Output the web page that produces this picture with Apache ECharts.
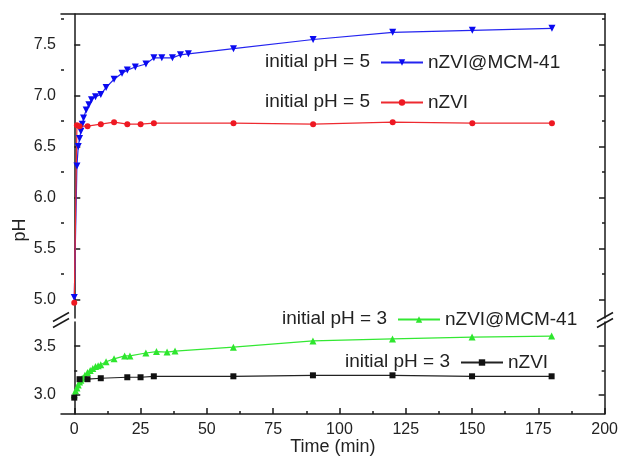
<!DOCTYPE html>
<html>
<head>
<meta charset="utf-8">
<script src="https://cdn.jsdelivr.net/npm/echarts@6/dist/echarts.min.js"></script>
<style>
  html, body { margin: 0; padding: 0; background: #fff; }
  #chart { width: 621px; height: 457px; }
</style>
</head>
<body>
<div id="chart"></div>
<script>
// pH versus reaction time, initial pH 5 (upper panel) and initial pH 3 (lower panel)
const seriesNames = [
  'initial pH = 5|nZVI@MCM-41',
  'initial pH = 5|nZVI',
  'initial pH = 3|nZVI@MCM-41',
  'initial pH = 3|nZVI'
];

const tMcm5 = [0, 1, 1.5, 2, 2.5, 3, 3.5, 4.5, 5.5, 6.5, 8, 10, 12, 15, 18, 20, 23, 27, 30, 33, 37, 40, 43, 60, 90, 120, 150, 180];
const phMcm5 = [5.02, 6.31, 6.50, 6.58, 6.65, 6.72, 6.78, 6.86, 6.91, 6.96, 6.99, 7.01, 7.08, 7.16, 7.22, 7.25, 7.28, 7.31, 7.37, 7.37, 7.37, 7.40, 7.41, 7.46, 7.55, 7.62, 7.64, 7.66];

const tFe5 = [0, 1, 2, 5, 10, 15, 20, 25, 30, 60, 90, 120, 150, 180];
const phFe5 = [4.97, 6.71, 6.70, 6.70, 6.72, 6.74, 6.72, 6.72, 6.73, 6.73, 6.72, 6.74, 6.73, 6.73];

const tMcm3 = [0, 0.5, 1, 1.5, 2, 2.5, 3, 4, 5, 6, 7, 8, 9, 10, 12, 15, 19, 21, 27, 31, 35, 38, 60, 90, 120, 150, 180];
const phMcm3 = [3.00, 3.04, 3.07, 3.10, 3.13, 3.15, 3.17, 3.20, 3.23, 3.25, 3.27, 3.29, 3.30, 3.31, 3.34, 3.37, 3.40, 3.40, 3.43, 3.445, 3.44, 3.45, 3.49, 3.555, 3.575, 3.595, 3.605];

const tFe3 = [0, 2, 5, 10, 20, 25, 30, 60, 90, 120, 150, 180];
const phFe3 = [2.97, 3.16, 3.16, 3.17, 3.18, 3.18, 3.19, 3.19, 3.20, 3.20, 3.19, 3.19];

// axis ticks
const xTicks = [0, 25, 50, 75, 100, 125, 150, 175, 200];
const xMinorTicks = [12.5, 37.5, 62.5, 87.5, 112.5, 137.5, 162.5, 187.5];
const yTicksUpper = [5.0, 5.5, 6.0, 6.5, 7.0, 7.5];
const yMinorUpper = [5.25, 5.75, 6.25, 6.75, 7.25, 7.75];
const yTicksLower = [3.0, 3.5];
const yMinorLower = [3.25];

const FONT = 'Liberation Sans, Arial, Helvetica, sans-serif';
const AXIS_COLOR = '#1a1a1a';

const zip = (xs, ys) => xs.map((x, i) => [x, ys[i]]);

const chart = echarts.init(document.getElementById('chart'), null, { renderer: 'canvas' });

const xRange = { min: -5, max: 200 };
const upperRange = { min: 4.82, max: 7.8 };
const lowerRange = { min: 2.8, max: 3.75 };

function yAxis(grid, range, side, ticks, len, labels) {
  return {
    type: 'value', gridIndex: grid, position: side,
    min: range.min, max: range.max,
    axisLine: { show: labels !== null, lineStyle: { color: AXIS_COLOR, width: 1.5 } },
    axisTick: { show: true, inside: true, length: len, customValues: ticks,
                lineStyle: { color: AXIS_COLOR, width: 1.5 } },
    axisLabel: labels ? { show: true, customValues: ticks, margin: 5,
                          formatter: v => v.toFixed(1),
                          fontFamily: FONT, fontSize: 16, color: '#222' }
                      : { show: false },
    splitLine: { show: false }
  };
}

const legendLayout = [
  { left: 380, top: 53 },
  { left: 380, top: 93 },
  { left: 397, top: 310 },
  { left: 460, top: 353 }
];

const option = {
  backgroundColor: '#fff',
  animation: false,
  grid: [
    { left: 61, right: 16, top: 14, height: 304 },
    { left: 61, right: 16, top: 322, height: 97 }
  ],
  xAxis: [
    { type: 'value', gridIndex: 0, position: 'top', ...xRange,
      axisLine: { show: true, lineStyle: { color: AXIS_COLOR, width: 1.5 } },
      axisTick: { show: false }, axisLabel: { show: false }, splitLine: { show: false } },
    { type: 'value', gridIndex: 1, position: 'bottom', ...xRange,
      axisLine: { show: true, lineStyle: { color: AXIS_COLOR, width: 1.5 } },
      axisTick: { show: true, inside: true, length: 6, customValues: xTicks,
                  lineStyle: { color: AXIS_COLOR, width: 1.5 } },
      axisLabel: { show: true, customValues: xTicks, margin: 7,
                   fontFamily: FONT, fontSize: 16, color: '#222' },
      splitLine: { show: false },
      name: 'Time (min)', nameLocation: 'middle', nameGap: 20,
      nameTextStyle: { fontFamily: FONT, fontSize: 18, color: '#222' } },
    { type: 'value', gridIndex: 1, position: 'bottom', ...xRange,
      axisLine: { show: false },
      axisTick: { show: true, inside: true, length: 3, customValues: xMinorTicks,
                  lineStyle: { color: AXIS_COLOR, width: 1.5 } },
      axisLabel: { show: false }, splitLine: { show: false } }
  ],
  yAxis: [
    yAxis(0, upperRange, 'left', yTicksUpper, 6, true),
    yAxis(1, lowerRange, 'left', yTicksLower, 6, true),
    yAxis(0, upperRange, 'left', yMinorUpper, 3, null),
    yAxis(1, lowerRange, 'left', yMinorLower, 3, null),
    yAxis(0, upperRange, 'right', yTicksUpper, 6, false),
    yAxis(1, lowerRange, 'right', yTicksLower, 6, false),
    yAxis(0, upperRange, 'right', yMinorUpper, 3, null),
    yAxis(1, lowerRange, 'right', yMinorLower, 3, null)
  ],
  legend: seriesNames.map((name, i) => ({
    data: [name],
    left: legendLayout[i].left, top: legendLayout[i].top,
    padding: 0, itemWidth: 42, itemHeight: 8, selectedMode: false,
    formatter: n => n.split('|')[1],
    textStyle: { fontFamily: FONT, fontSize: 19, color: '#222' }
  })),
  series: [
    { name: seriesNames[0], type: 'line', xAxisIndex: 0, yAxisIndex: 0,
      data: zip(tMcm5, phMcm5), symbol: 'triangle', symbolRotate: 180, symbolSize: 7,
      itemStyle: { color: '#0a0af0' }, lineStyle: { color: '#2424f0', width: 1.2 } },
    { name: seriesNames[1], type: 'line', xAxisIndex: 0, yAxisIndex: 0,
      data: zip(tFe5, phFe5), symbol: 'circle', symbolSize: 6,
      itemStyle: { color: '#ee1822' }, lineStyle: { color: '#ee2a30', width: 1.2 } },
    { name: seriesNames[2], type: 'line', xAxisIndex: 1, yAxisIndex: 1,
      data: zip(tMcm3, phMcm3), symbol: 'triangle', symbolSize: 7,
      itemStyle: { color: '#2ee62e' }, lineStyle: { color: '#33e833', width: 1.2 } },
    { name: seriesNames[3], type: 'line', xAxisIndex: 1, yAxisIndex: 1,
      data: zip(tFe3, phFe3), symbol: 'rect', symbolSize: 6,
      itemStyle: { color: '#111' }, lineStyle: { color: '#222', width: 1.2 } }
  ]
};

chart.setOption(option);

// decorations: y-axis title, legend prefixes, axis-break marks
const xl = chart.convertToPixel({ xAxisIndex: 0 }, xRange.min);
const xr = chart.convertToPixel({ xAxisIndex: 0 }, xRange.max);
const yb = (chart.convertToPixel({ yAxisIndex: 0 }, upperRange.min) +
            chart.convertToPixel({ yAxisIndex: 1 }, lowerRange.max)) / 2;

const graphics = [];
graphics.push({
  type: 'text', x: 20, y: 230, rotation: Math.PI / 2,
  style: { text: 'pH', fontFamily: FONT, fontSize: 18, fill: '#222',
           align: 'center', verticalAlign: 'middle' }
});
seriesNames.forEach((name, i) => {
  graphics.push({
    type: 'text', x: legendLayout[i].left - 10, y: legendLayout[i].top + 9,
    style: { text: name.split('|')[0], fontFamily: FONT, fontSize: 19, fill: '#222',
             align: 'right', verticalAlign: 'middle' }
  });
});
[xl, xr].forEach(x => {
  [-3, 3].forEach(d => {
    graphics.push({
      type: 'line',
      shape: { x1: x - 8, y1: yb + d + 4.5, x2: x + 8, y2: yb + d - 4.5 },
      style: { stroke: AXIS_COLOR, lineWidth: 1.5 }
    });
  });
});
chart.setOption({ graphic: graphics });
</script>
</body>
</html>
